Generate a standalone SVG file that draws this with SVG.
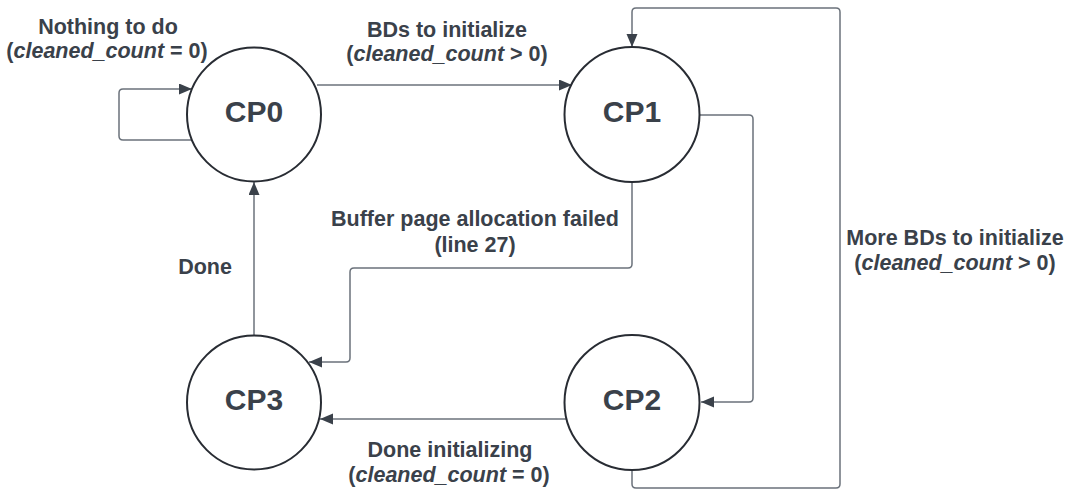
<svg xmlns="http://www.w3.org/2000/svg" width="1067" height="491" viewBox="0 0 1067 491">
  <style>
    .state { fill: #ffffff; stroke: #282c33; stroke-width: 2; }
    .name { font-family: "Liberation Sans", Arial, sans-serif; font-weight: bold; font-size: 30px; fill: #3a414a; text-anchor: middle; }
    .edge { fill: none; stroke: #6b727b; stroke-width: 1.5; marker-end: url(#arrow); }
    .label { font-family: "Liberation Sans", Arial, sans-serif; font-weight: bold; font-size: 21.5px; fill: #3a414a; text-anchor: middle; }
    .var { font-style: italic; }
  </style>
  <defs>
    <marker id="arrow" markerUnits="userSpaceOnUse" markerWidth="14" markerHeight="12" refX="13" refY="5.5" orient="auto">
      <path d="M0,0 L13,5.5 L0,11 z" fill="#3a414a"/>
    </marker>
  </defs>
  <rect width="1067" height="491" fill="#ffffff"/>

  <g id="connectors">
    <!-- CP0 self loop -->
    <path class="edge" d="M192,140 H123 Q119,140 119,136 V93 Q119,89 123,89 H192"/>
    <!-- CP0 to CP1 -->
    <path class="edge" d="M317,85 H572"/>
    <!-- CP1 to CP2 -->
    <path class="edge" d="M700,115 H749 Q753,115 753,119 V398 Q753,402 749,402 H701"/>
    <!-- CP2 back to CP1 -->
    <path class="edge" d="M632,470 V484 Q632,488 636,488 H836 Q840,488 840,484 V12 Q840,8 836,8 H636 Q632,8 632,12 V47"/>
    <!-- CP1 to CP3 -->
    <path class="edge" d="M632,182 V264 Q632,268 628,268 H354 Q350,268 350,272 V358 Q350,362 346,362 H309"/>
    <!-- CP2 to CP3 -->
    <path class="edge" d="M566,419 H320"/>
    <!-- CP3 to CP0 -->
    <path class="edge" d="M254,335 V182"/>
  </g>

  <g id="CP0">
    <circle class="state" cx="254" cy="114.5" r="67"/>
    <text class="name" x="254" y="122">CP0</text>
  </g>
  <g id="CP1">
    <circle class="state" cx="632" cy="114.5" r="67.5"/>
    <text class="name" x="632" y="122">CP1</text>
  </g>
  <g id="CP2">
    <circle class="state" cx="632" cy="402.5" r="67.5"/>
    <text class="name" x="632" y="410">CP2</text>
  </g>
  <g id="CP3">
    <circle class="state" cx="254" cy="402.5" r="67"/>
    <text class="name" x="254" y="410">CP3</text>
  </g>

  <g id="labels">
    <text class="label" x="108" y="34">Nothing to do</text>
    <text class="label" x="107" y="58">(<tspan class="var">cleaned_count</tspan> = 0)</text>

    <text class="label" x="447" y="37">BDs to initialize</text>
    <text class="label" x="447" y="61">(<tspan class="var">cleaned_count</tspan> &gt; 0)</text>

    <text class="label" x="475" y="226">Buffer page allocation failed</text>
    <text class="label" x="475" y="252">(line 27)</text>

    <text class="label" x="205" y="274">Done</text>

    <text class="label" x="450" y="457">Done initializing</text>
    <text class="label" x="449" y="482">(<tspan class="var">cleaned_count</tspan> = 0)</text>

    <text class="label" x="955" y="245">More BDs to initialize</text>
    <text class="label" x="955" y="270">(<tspan class="var">cleaned_count</tspan> &gt; 0)</text>
  </g>
</svg>
